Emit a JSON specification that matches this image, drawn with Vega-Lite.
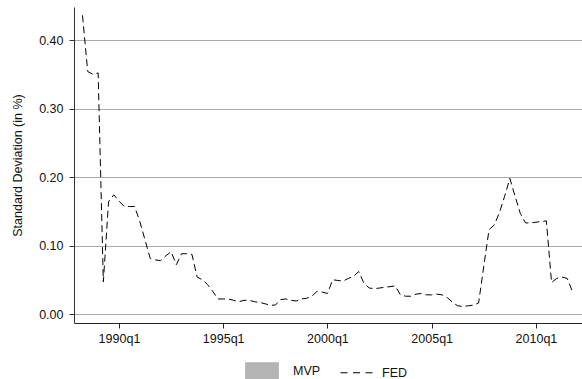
{
  "$schema": "https://vega.github.io/schema/vega-lite/v6.json",
  "width": 508,
  "height": 316,
  "padding": {"left": 74, "top": 7, "right": 0, "bottom": 56},
  "autosize": {"type": "none"},
  "background": "white",
  "config": {"view": {"stroke": null}, "font": "Liberation Sans"},
  "data": {"values": [
    {"quarter": 113, "sd": 0.436, "series": "FED"},
    {"quarter": 114, "sd": 0.354, "series": "FED"},
    {"quarter": 115, "sd": 0.350, "series": "FED"},
    {"quarter": 116, "sd": 0.352, "series": "FED"},
    {"quarter": 117, "sd": 0.047, "series": "FED"},
    {"quarter": 118, "sd": 0.164, "series": "FED"},
    {"quarter": 119, "sd": 0.174, "series": "FED"},
    {"quarter": 120, "sd": 0.165, "series": "FED"},
    {"quarter": 121, "sd": 0.157, "series": "FED"},
    {"quarter": 122, "sd": 0.157, "series": "FED"},
    {"quarter": 123, "sd": 0.157, "series": "FED"},
    {"quarter": 124, "sd": 0.135, "series": "FED"},
    {"quarter": 125, "sd": 0.108, "series": "FED"},
    {"quarter": 126, "sd": 0.081, "series": "FED"},
    {"quarter": 127, "sd": 0.079, "series": "FED"},
    {"quarter": 128, "sd": 0.078, "series": "FED"},
    {"quarter": 129, "sd": 0.085, "series": "FED"},
    {"quarter": 130, "sd": 0.091, "series": "FED"},
    {"quarter": 131, "sd": 0.072, "series": "FED"},
    {"quarter": 132, "sd": 0.088, "series": "FED"},
    {"quarter": 133, "sd": 0.088, "series": "FED"},
    {"quarter": 134, "sd": 0.087, "series": "FED"},
    {"quarter": 135, "sd": 0.054, "series": "FED"},
    {"quarter": 136, "sd": 0.050, "series": "FED"},
    {"quarter": 137, "sd": 0.043, "series": "FED"},
    {"quarter": 138, "sd": 0.033, "series": "FED"},
    {"quarter": 139, "sd": 0.022, "series": "FED"},
    {"quarter": 140, "sd": 0.022, "series": "FED"},
    {"quarter": 141, "sd": 0.022, "series": "FED"},
    {"quarter": 142, "sd": 0.020, "series": "FED"},
    {"quarter": 143, "sd": 0.018, "series": "FED"},
    {"quarter": 144, "sd": 0.020, "series": "FED"},
    {"quarter": 145, "sd": 0.020, "series": "FED"},
    {"quarter": 146, "sd": 0.018, "series": "FED"},
    {"quarter": 147, "sd": 0.017, "series": "FED"},
    {"quarter": 148, "sd": 0.015, "series": "FED"},
    {"quarter": 149, "sd": 0.013, "series": "FED"},
    {"quarter": 150, "sd": 0.013, "series": "FED"},
    {"quarter": 151, "sd": 0.021, "series": "FED"},
    {"quarter": 152, "sd": 0.022, "series": "FED"},
    {"quarter": 153, "sd": 0.020, "series": "FED"},
    {"quarter": 154, "sd": 0.019, "series": "FED"},
    {"quarter": 155, "sd": 0.022, "series": "FED"},
    {"quarter": 156, "sd": 0.023, "series": "FED"},
    {"quarter": 157, "sd": 0.026, "series": "FED"},
    {"quarter": 158, "sd": 0.033, "series": "FED"},
    {"quarter": 159, "sd": 0.032, "series": "FED"},
    {"quarter": 160, "sd": 0.030, "series": "FED"},
    {"quarter": 161, "sd": 0.050, "series": "FED"},
    {"quarter": 162, "sd": 0.049, "series": "FED"},
    {"quarter": 163, "sd": 0.048, "series": "FED"},
    {"quarter": 164, "sd": 0.052, "series": "FED"},
    {"quarter": 165, "sd": 0.055, "series": "FED"},
    {"quarter": 166, "sd": 0.062, "series": "FED"},
    {"quarter": 167, "sd": 0.045, "series": "FED"},
    {"quarter": 168, "sd": 0.038, "series": "FED"},
    {"quarter": 169, "sd": 0.037, "series": "FED"},
    {"quarter": 170, "sd": 0.038, "series": "FED"},
    {"quarter": 171, "sd": 0.039, "series": "FED"},
    {"quarter": 172, "sd": 0.040, "series": "FED"},
    {"quarter": 173, "sd": 0.041, "series": "FED"},
    {"quarter": 174, "sd": 0.028, "series": "FED"},
    {"quarter": 175, "sd": 0.026, "series": "FED"},
    {"quarter": 176, "sd": 0.026, "series": "FED"},
    {"quarter": 177, "sd": 0.029, "series": "FED"},
    {"quarter": 178, "sd": 0.030, "series": "FED"},
    {"quarter": 179, "sd": 0.028, "series": "FED"},
    {"quarter": 180, "sd": 0.028, "series": "FED"},
    {"quarter": 181, "sd": 0.029, "series": "FED"},
    {"quarter": 182, "sd": 0.028, "series": "FED"},
    {"quarter": 183, "sd": 0.024, "series": "FED"},
    {"quarter": 184, "sd": 0.017, "series": "FED"},
    {"quarter": 185, "sd": 0.012, "series": "FED"},
    {"quarter": 186, "sd": 0.011, "series": "FED"},
    {"quarter": 187, "sd": 0.012, "series": "FED"},
    {"quarter": 188, "sd": 0.013, "series": "FED"},
    {"quarter": 189, "sd": 0.016, "series": "FED"},
    {"quarter": 190, "sd": 0.070, "series": "FED"},
    {"quarter": 191, "sd": 0.123, "series": "FED"},
    {"quarter": 192, "sd": 0.130, "series": "FED"},
    {"quarter": 193, "sd": 0.148, "series": "FED"},
    {"quarter": 194, "sd": 0.172, "series": "FED"},
    {"quarter": 195, "sd": 0.198, "series": "FED"},
    {"quarter": 196, "sd": 0.172, "series": "FED"},
    {"quarter": 197, "sd": 0.147, "series": "FED"},
    {"quarter": 198, "sd": 0.133, "series": "FED"},
    {"quarter": 199, "sd": 0.133, "series": "FED"},
    {"quarter": 200, "sd": 0.134, "series": "FED"},
    {"quarter": 201, "sd": 0.135, "series": "FED"},
    {"quarter": 202, "sd": 0.136, "series": "FED"},
    {"quarter": 203, "sd": 0.046, "series": "FED"},
    {"quarter": 204, "sd": 0.052, "series": "FED"},
    {"quarter": 205, "sd": 0.054, "series": "FED"},
    {"quarter": 206, "sd": 0.052, "series": "FED"},
    {"quarter": 207, "sd": 0.033, "series": "FED"}
  ]},
  "mark": {"type": "line", "strokeDash": [7, 4], "strokeWidth": 1},
  "encoding": {
    "x": {
      "field": "quarter",
      "type": "quantitative",
      "scale": {"domain": [111.37, 208.84], "nice": false, "zero": false},
      "axis": {
        "title": null,
        "values": [120, 140, 160, 180, 200],
        "labelExpr": "(floor(datum.value/4)+1960) + 'q' + (datum.value%4+1)",
        "grid": false,
        "domainColor": "#222222",
        "tickColor": "#222222",
        "tickSize": 5,
        "labelPadding": 4,
        "labelFontSize": 12.5,
        "labelFont": "Liberation Sans",
        "labelColor": "#111111",
        "labelFlush": false,
        "labelOverlap": false
      }
    },
    "y": {
      "field": "sd",
      "type": "quantitative",
      "scale": {"domain": [-0.0131, 0.4482], "nice": false, "zero": false},
      "axis": {
        "title": "Standard Deviation (in %)",
        "values": [0, 0.1, 0.2, 0.3, 0.4],
        "format": ".2f",
        "grid": true,
        "gridColor": "#aaaaaa",
        "gridWidth": 1,
        "domainColor": "#333333",
        "tickColor": "#333333",
        "tickSize": 5,
        "labelPadding": 6,
        "labelFontSize": 12.5,
        "labelFont": "Liberation Sans",
        "labelColor": "#111111",
        "labelFlush": false,
        "labelOverlap": false,
        "titleFont": "Liberation Sans",
        "titleFontSize": 12.5,
        "titleFontWeight": "normal",
        "titleColor": "#111111",
        "titlePadding": 14
      }
    },
    "color": {
      "field": "series",
      "type": "nominal",
      "scale": {"domain": ["MVP", "FED"], "range": ["#b4b4b4", "#000000"]},
      "legend": {
        "orient": "none",
        "legendX": 171,
        "legendY": 346.5,
        "direction": "horizontal",
        "title": null,
        "padding": 0,
        "symbolSize": 1089,
        "labelOffset": 11,
        "columnPadding": 17,
        "labelFontSize": 12.5,
        "labelFont": "Liberation Sans",
        "labelColor": "#111111",
        "encode": {
          "symbols": {
            "update": {
              "shape": {"signal": "datum.value === 'MVP' ? 'M-1,-0.5H1V0.5H-1Z' : 'stroke'"},
              "fill": {"signal": "datum.value === 'MVP' ? '#b4b4b4' : 'transparent'"},
              "stroke": {"signal": "datum.value === 'MVP' ? '#a0a0a0' : '#000000'"},
              "strokeDash": {"signal": "datum.value === 'MVP' ? [1, 0] : [7, 5.5]"},
              "strokeWidth": {"value": 1},
              "size": {"value": 1089}
            }
          },
          "labels": {
            "update": {
              "dx": {"signal": "datum.value === 'MVP' ? 3 : -3"}
            }
          }
        }
      }
    }
  }
}
